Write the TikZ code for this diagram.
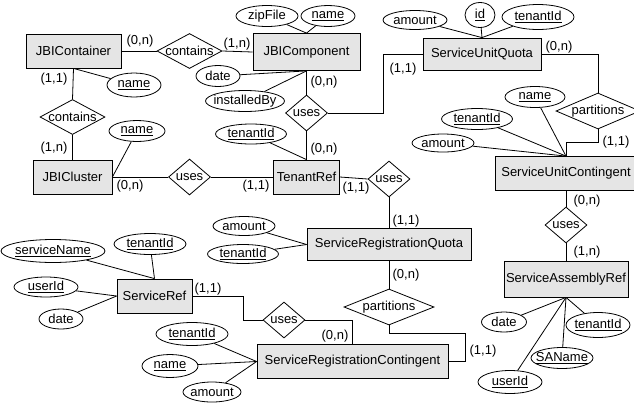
\documentclass[tikz,border=0pt]{standalone}
\usepackage{fontspec}
\setmainfont{Liberation Sans}
\usetikzlibrary{shapes.geometric}

\tikzset{
  every node/.style={font=\fontsize{13}{15}\selectfont},
  entity/.style={draw, fill=gray!20, minimum height=34pt, inner sep=2pt},
  relation/.style={diamond, draw, inner sep=0pt, minimum width=42pt, minimum height=36pt,
    execute at begin node={\hbox to 0pt\bgroup\hss}, execute at end node={\hss\egroup}},
  attrib/.style={ellipse, draw, inner sep=0pt, minimum height=21pt,
    execute at begin node={\hbox to 0pt\bgroup\hss}, execute at end node={\hss\egroup}},
  card/.style={inner sep=0pt},
}

\begin{document}
\begin{tikzpicture}[x=1pt, y=-1pt, line width=0.8pt]
        \useasboundingbox (0,0) rectangle (634,408);

        % entities
        \node[entity, minimum width=95pt] (JBIContainer) at (73.5,51) {JBIContainer};
        \node[entity, minimum width=107pt, minimum height=37pt] (JBIComponent) at (306.5,52) {JBIComponent};
        \node[entity, minimum width=79pt] (JBICluster) at (72.5,177) {JBICluster};
        \node[entity, minimum width=66pt] (TenantRef) at (306.5,177) {TenantRef};
        \node[entity, minimum width=118pt, minimum height=32pt] (SUQ) at (482,54) {ServiceUnitQuota};
        \node[entity, minimum width=142pt] (SUC) at (566,173.5) {ServiceUnitContingent};
        \node[entity, minimum width=164pt, minimum height=32pt] (SRQ) at (389,244.5) {ServiceRegistrationQuota};
        \node[entity, minimum width=191pt] (SRC) at (352.5,361.5) {ServiceRegistrationContingent};
        \node[entity, minimum width=75pt] (ServiceRef) at (154.5,296) {ServiceRef};
        \node[entity, minimum width=124pt, minimum height=36pt] (SAR) at (566,279) {ServiceAssemblyRef};

        % relationships
        \node[relation, minimum width=65pt, minimum height=35pt] (contains1) at (189.5,51) {contains};
        \node[relation, minimum width=65pt, minimum height=35pt] (contains2) at (72.5,117) {contains};
        \node[relation] (usesCo) at (306.5,113) {uses};
        \node[relation] (usesCl) at (189.5,177) {uses};
        \node[relation] (usesTR) at (389,179) {uses};
        \node[relation, minimum width=84pt] (partU) at (598,111) {partitions};
        \node[relation] (usesSU) at (566,225) {uses};
        \node[relation, minimum width=90pt] (partR) at (389,307) {partitions};
        \node[relation] (usesSR) at (284,320) {uses};

        % attributes
        \node[attrib, minimum width=54pt, minimum height=24pt] (nameCt) at (134,85) {\underline{name}};
        \node[attrib, minimum width=56pt] (nameCl) at (137,131) {\underline{name}};
        \node[attrib, minimum width=62pt] (zipFile) at (267,16) {zipFile};
        \node[attrib, minimum width=54pt] (nameCo) at (328,16) {\underline{name}};
        \node[attrib, minimum width=44pt] (dateCo) at (218,76) {date};
        \node[attrib, minimum width=79pt] (installedBy) at (245,101) {installedBy};
        \node[attrib, minimum width=64pt, minimum height=19pt] (amountQ) at (415,20) {amount};
        \node[attrib, minimum width=30pt, minimum height=25pt] (idQ) at (480,15) {\underline{id}};
        \node[attrib, minimum width=72pt, minimum height=25pt] (tenantQ) at (538,17) {\underline{tenantId}};
        \node[attrib, minimum width=60pt] (nameU) at (535,97) {\underline{name}};
        \node[attrib, minimum width=71pt] (tenantU) at (477,119) {\underline{tenantId}};
        \node[attrib, minimum width=62pt, minimum height=18pt] (amountU) at (443,143) {amount};
        \node[attrib, minimum width=71pt, minimum height=20pt] (tenantT) at (251,134) {\underline{tenantId}};
        \node[attrib, minimum width=62pt, minimum height=19pt] (amountR) at (244,226) {amount};
        \node[attrib, minimum width=71pt, minimum height=19pt] (tenantR) at (243,254) {\underline{tenantId}};
        \node[attrib, minimum width=104pt, minimum height=23pt] (serviceName) at (53,251) {\underline{serviceName}};
        \node[attrib, minimum width=72pt] (tenantS) at (150,244) {\underline{tenantId}};
        \node[attrib, minimum width=64pt, minimum height=20pt] (userS) at (46,287) {\underline{userId}};
        \node[attrib, minimum width=44pt, minimum height=20pt] (dateS) at (61,319) {date};
        \node[attrib, minimum width=72pt, minimum height=23pt] (tenantC) at (192,334) {\underline{tenantId}};
        \node[attrib, minimum width=56pt, minimum height=23pt] (nameC) at (170,366) {\underline{name}};
        \node[attrib, minimum width=58pt, minimum height=20pt] (amountC) at (212,392) {amount};
        \node[attrib, minimum width=45pt, minimum height=20pt] (dateA) at (504,322) {date};
        \node[attrib, minimum width=64pt, minimum height=25pt] (tenantA) at (598,325) {\underline{tenantId}};
        \node[attrib, minimum width=62pt, minimum height=21pt] (SAName) at (562,358) {\underline{SAName}};
        \node[attrib, minimum width=64pt, minimum height=23pt] (userA) at (510,382) {\underline{userId}};

        % bends
        \coordinate (bendA) at (383,54);
        \coordinate (bendB) at (465,333);
        \coordinate (bendC) at (243,296);
        \coordinate (bendD) at (566,142);

        % connectors
        \draw (JBIContainer.east) -- (contains1.west);
        \draw (contains1.east) -- (JBIComponent.west);
        \draw (JBIContainer.south) -- (contains2.north);
        \draw (contains2.south) -- (JBICluster.north);
        \draw (JBICluster.east) -- (usesCl.west);
        \draw (usesCl.east) -- (TenantRef.west);
        \draw (JBIComponent.south) -- (usesCo.north);
        \draw (usesCo.south) -- (TenantRef.north);
        \draw (usesCo.east) -| (bendA) -- (SUQ.west);
        \draw (TenantRef.east) -- (usesTR.west);
        \draw (usesTR.south) -- (SRQ.north);
        \draw (SRQ.south) -- (partR.north);
        \draw (partR.south) |- (bendB) |- (SRC.east);
        \draw (ServiceRef.east) -- (bendC) |- (usesSR.west);
        \draw (usesSR.east) -| (SRC.north);
        \draw (SUQ.east) -| (partU.north);
        \draw (partU.south) |- (bendD) -- (SUC.north);
        \draw (SUC.south) -- (usesSU.north);
        \draw (usesSU.south) -- (SAR.north);

        % attribute lines
        \draw (JBIContainer.south) -- (nameCt);
        \draw (JBICluster.east) -- (nameCl);
        \draw (JBIComponent.north) -- (zipFile);
        \draw (JBIComponent.north) -- (nameCo);
        \draw (JBIComponent.south) -- (dateCo);
        \draw (JBIComponent.south) -- (installedBy);
        \draw (TenantRef.north) -- (tenantT);
        \draw (SUQ.north) -- (amountQ);
        \draw (SUQ.north) -- (idQ);
        \draw (SUQ.north) -- (tenantQ);
        \draw (SUC.north) -- (nameU);
        \draw (SUC.north) -- (tenantU);
        \draw (SUC.north) -- (amountU);
        \draw (SRQ.west) -- (amountR);
        \draw (SRQ.west) -- (tenantR);
        \draw (ServiceRef.north) -- (serviceName);
        \draw (ServiceRef.north) -- (tenantS);
        \draw (ServiceRef.west) -- (userS);
        \draw (ServiceRef.west) -- (dateS);
        \draw (SRC.west) -- (tenantC);
        \draw (SRC.west) -- (nameC);
        \draw (SRC.west) -- (amountC);
        \draw (SAR.south) -- (dateA);
        \draw (SAR.south) -- (tenantA);
        \draw (SAR.south) -- (SAName);
        \draw (SAR.south) -- (userA);

        % cardinalities
        \node[card] (cA) at (140,41) {(0,n)};
        \node[card] (cB) at (237,44) {(1,n)};
        \node[card] (cC) at (54,79) {(1,1)};
        \node[card] (cD) at (54,148) {(1,n)};
        \node[card] (cE) at (130,186) {(0,n)};
        \node[card] (cF) at (256,186) {(1,1)};
        \node[card] (cG) at (324,82) {(0,n)};
        \node[card] (cH) at (324,149) {(0,n)};
        \node[card] (cI) at (403,69) {(1,1)};
        \node[card] (cJ) at (356,188) {(1,1)};
        \node[card] (cK) at (406,221) {(1,1)};
        \node[card] (cL) at (406,275) {(0,n)};
        \node[card] (cM) at (483,351) {(1,1)};
        \node[card] (cN) at (208,289) {(1,1)};
        \node[card] (cO) at (335,336) {(0,n)};
        \node[card] (cP) at (559,47) {(0,n)};
        \node[card] (cQ) at (616,142) {(1,1)};
        \node[card] (cR) at (587,201) {(0,n)};
        \node[card] (cS) at (587,252) {(1,n)};
\end{tikzpicture}
\end{document}
